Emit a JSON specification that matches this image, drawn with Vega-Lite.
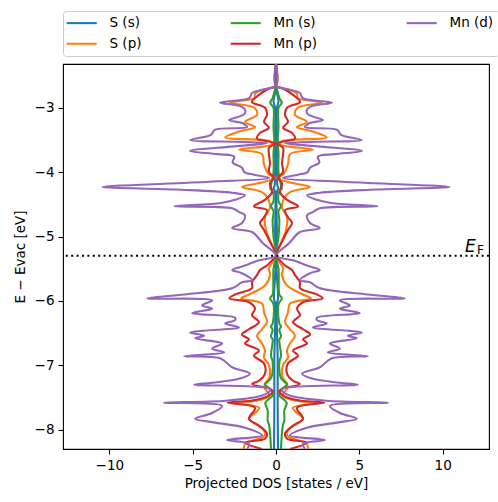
{
  "$schema": "https://vega.github.io/schema/vega-lite/v6.json",
  "width": 426,
  "height": 385,
  "autosize": "none",
  "padding": {"left": 63, "top": 64, "right": 9, "bottom": 53},
  "config": {
    "font": "DejaVu Sans",
    "view": {"stroke": "black", "strokeWidth": 1.1},
    "axis": {
      "domain": false, "grid": false, "tickColor": "black", "tickSize": 5, "tickWidth": 1.1,
      "labelFontSize": 13.5, "labelColor": "black", "labelPadding": 4,
      "titleFontSize": 13.5, "titleColor": "black", "titleFontWeight": "normal",
      "labelFlush": false, "labelOverlap": false
    }
  },
  "data": {"values": [
    {"s":"S (s)","e":-2.32,"u":0,"d":0},{"s":"S (s)","e":-2.66,"u":0,"d":0},{"s":"S (s)","e":-2.8,"u":0.08,"d":-0.08},{"s":"S (s)","e":-2.9,"u":0.15,"d":-0.15},{"s":"S (s)","e":-3.0,"u":0.06,"d":-0.06},{"s":"S (s)","e":-3.5,"u":0.06,"d":-0.06},{"s":"S (s)","e":-4.2,"u":0.08,"d":-0.08},{"s":"S (s)","e":-4.25,"u":0.14,"d":-0.14},{"s":"S (s)","e":-4.3,"u":0.06,"d":-0.06},{"s":"S (s)","e":-5.0,"u":0.05,"d":-0.05},{"s":"S (s)","e":-5.3,"u":0,"d":0},{"s":"S (s)","e":-5.6,"u":0.05,"d":-0.05},{"s":"S (s)","e":-5.96,"u":0.12,"d":-0.12},{"s":"S (s)","e":-6.05,"u":0.05,"d":-0.05},{"s":"S (s)","e":-6.9,"u":0.1,"d":-0.1},{"s":"S (s)","e":-7.3,"u":0.1,"d":-0.1},{"s":"S (s)","e":-7.6,"u":0.1,"d":-0.1},{"s":"S (s)","e":-8.3,"u":0.12,"d":-0.12},

    {"s":"S (p)","e":-2.32,"u":0,"d":0},{"s":"S (p)","e":-2.66,"u":0,"d":0},{"s":"S (p)","e":-2.72,"u":0.8,"d":-0.8},{"s":"S (p)","e":-2.78,"u":1.26,"d":-1.26},{"s":"S (p)","e":-2.85,"u":1.3,"d":-1.3},{"s":"S (p)","e":-2.92,"u":2.75,"d":-2.75},{"s":"S (p)","e":-3.0,"u":1.3,"d":-1.3},{"s":"S (p)","e":-3.11,"u":1.14,"d":-1.14},{"s":"S (p)","e":-3.22,"u":1.86,"d":-1.86},{"s":"S (p)","e":-3.3,"u":1.26,"d":-1.26},{"s":"S (p)","e":-3.37,"u":2.22,"d":-2.22},{"s":"S (p)","e":-3.46,"u":3.05,"d":-3.05},{"s":"S (p)","e":-3.52,"u":0.36,"d":-0.36},{"s":"S (p)","e":-3.57,"u":0.24,"d":-0.24},{"s":"S (p)","e":-3.65,"u":2.22,"d":-2.22},{"s":"S (p)","e":-3.72,"u":0.84,"d":-0.84},{"s":"S (p)","e":-3.88,"u":0.72,"d":-0.72},{"s":"S (p)","e":-4.04,"u":0.42,"d":-0.42},{"s":"S (p)","e":-4.09,"u":0.06,"d":-0.06},{"s":"S (p)","e":-4.17,"u":1.0,"d":-1.0},{"s":"S (p)","e":-4.23,"u":2.04,"d":-2.04},{"s":"S (p)","e":-4.31,"u":0.84,"d":-0.84},{"s":"S (p)","e":-4.4,"u":0.5,"d":-0.5},{"s":"S (p)","e":-4.55,"u":0.36,"d":-0.36},{"s":"S (p)","e":-4.7,"u":0.66,"d":-0.66},{"s":"S (p)","e":-4.9,"u":0.6,"d":-0.6},{"s":"S (p)","e":-5.1,"u":0.3,"d":-0.3},{"s":"S (p)","e":-5.3,"u":0,"d":0},{"s":"S (p)","e":-5.37,"u":0.12,"d":-0.12},{"s":"S (p)","e":-5.49,"u":0.42,"d":-0.42},{"s":"S (p)","e":-5.6,"u":0.36,"d":-0.36},{"s":"S (p)","e":-5.76,"u":0.66,"d":-0.66},{"s":"S (p)","e":-5.9,"u":1.62,"d":-1.62},{"s":"S (p)","e":-5.96,"u":2.1,"d":-2.1},{"s":"S (p)","e":-6.04,"u":0.84,"d":-0.84},{"s":"S (p)","e":-6.18,"u":0.72,"d":-0.72},{"s":"S (p)","e":-6.33,"u":0.54,"d":-0.54},{"s":"S (p)","e":-6.44,"u":0.84,"d":-0.84},{"s":"S (p)","e":-6.54,"u":1.14,"d":-1.14},{"s":"S (p)","e":-6.66,"u":0.84,"d":-0.84},{"s":"S (p)","e":-6.77,"u":0.66,"d":-0.66},{"s":"S (p)","e":-6.88,"u":0.72,"d":-0.72},{"s":"S (p)","e":-7.0,"u":0.42,"d":-0.42},{"s":"S (p)","e":-7.2,"u":0.42,"d":-0.42},{"s":"S (p)","e":-7.28,"u":0.66,"d":-0.66},{"s":"S (p)","e":-7.36,"u":0.66,"d":-0.66},{"s":"S (p)","e":-7.47,"u":0.4,"d":-0.4},{"s":"S (p)","e":-7.55,"u":1.2,"d":-1.2},{"s":"S (p)","e":-7.58,"u":2.46,"d":-2.46},{"s":"S (p)","e":-7.66,"u":1.0,"d":-1.0},{"s":"S (p)","e":-7.74,"u":1.26,"d":-1.26},{"s":"S (p)","e":-7.83,"u":1.62,"d":-1.62},{"s":"S (p)","e":-7.97,"u":0.84,"d":-0.84},{"s":"S (p)","e":-8.09,"u":0.66,"d":-0.66},{"s":"S (p)","e":-8.22,"u":1.86,"d":-1.86},{"s":"S (p)","e":-8.3,"u":1.92,"d":-1.92},

    {"s":"Mn (s)","e":-2.32,"u":0,"d":0},{"s":"Mn (s)","e":-2.66,"u":0,"d":0},{"s":"Mn (s)","e":-2.75,"u":0.1,"d":-0.1},{"s":"Mn (s)","e":-2.85,"u":0.2,"d":-0.2},{"s":"Mn (s)","e":-2.92,"u":0.35,"d":-0.35},{"s":"Mn (s)","e":-3.0,"u":0.15,"d":-0.15},{"s":"Mn (s)","e":-3.3,"u":0.15,"d":-0.15},{"s":"Mn (s)","e":-3.55,"u":0.1,"d":-0.1},{"s":"Mn (s)","e":-3.7,"u":0.15,"d":-0.15},{"s":"Mn (s)","e":-4.0,"u":0.15,"d":-0.15},{"s":"Mn (s)","e":-4.2,"u":0.3,"d":-0.3},{"s":"Mn (s)","e":-4.25,"u":0.35,"d":-0.35},{"s":"Mn (s)","e":-4.3,"u":0.2,"d":-0.2},{"s":"Mn (s)","e":-4.45,"u":0.15,"d":-0.15},{"s":"Mn (s)","e":-4.53,"u":0.3,"d":-0.3},{"s":"Mn (s)","e":-4.6,"u":0.15,"d":-0.15},{"s":"Mn (s)","e":-4.75,"u":0.2,"d":-0.2},{"s":"Mn (s)","e":-5.0,"u":0.15,"d":-0.15},{"s":"Mn (s)","e":-5.3,"u":0,"d":0},{"s":"Mn (s)","e":-5.5,"u":0.15,"d":-0.15},{"s":"Mn (s)","e":-5.9,"u":0.2,"d":-0.2},{"s":"Mn (s)","e":-5.96,"u":0.35,"d":-0.35},{"s":"Mn (s)","e":-6.05,"u":0.15,"d":-0.15},{"s":"Mn (s)","e":-6.35,"u":0.2,"d":-0.2},{"s":"Mn (s)","e":-6.4,"u":0.3,"d":-0.3},{"s":"Mn (s)","e":-6.45,"u":0.2,"d":-0.2},{"s":"Mn (s)","e":-6.55,"u":0.3,"d":-0.3},{"s":"Mn (s)","e":-6.6,"u":0.2,"d":-0.2},{"s":"Mn (s)","e":-6.85,"u":0.3,"d":-0.3},{"s":"Mn (s)","e":-6.95,"u":0.2,"d":-0.2},{"s":"Mn (s)","e":-7.2,"u":0.3,"d":-0.3},{"s":"Mn (s)","e":-7.3,"u":0.64,"d":-0.64},{"s":"Mn (s)","e":-7.38,"u":0.3,"d":-0.3},{"s":"Mn (s)","e":-7.47,"u":0.2,"d":-0.2},{"s":"Mn (s)","e":-7.58,"u":0.64,"d":-0.64},{"s":"Mn (s)","e":-7.7,"u":0.5,"d":-0.5},{"s":"Mn (s)","e":-7.85,"u":0.5,"d":-0.5},{"s":"Mn (s)","e":-7.95,"u":0.4,"d":-0.4},{"s":"Mn (s)","e":-8.3,"u":0.3,"d":-0.3},

    {"s":"Mn (p)","e":-2.32,"u":0,"d":0},{"s":"Mn (p)","e":-2.66,"u":0,"d":0},{"s":"Mn (p)","e":-2.7,"u":0.42,"d":-0.42},{"s":"Mn (p)","e":-2.8,"u":1.02,"d":-1.02},{"s":"Mn (p)","e":-2.91,"u":1.44,"d":-1.44},{"s":"Mn (p)","e":-3.0,"u":0.66,"d":-0.66},{"s":"Mn (p)","e":-3.11,"u":0.54,"d":-0.54},{"s":"Mn (p)","e":-3.22,"u":0.72,"d":-0.72},{"s":"Mn (p)","e":-3.31,"u":0.42,"d":-0.42},{"s":"Mn (p)","e":-3.39,"u":0.96,"d":-0.96},{"s":"Mn (p)","e":-3.48,"u":1.14,"d":-1.14},{"s":"Mn (p)","e":-3.53,"u":0.3,"d":-0.3},{"s":"Mn (p)","e":-3.56,"u":0.05,"d":-0.05},{"s":"Mn (p)","e":-3.62,"u":0.42,"d":-0.42},{"s":"Mn (p)","e":-3.73,"u":0.42,"d":-0.42},{"s":"Mn (p)","e":-3.86,"u":0.36,"d":-0.36},{"s":"Mn (p)","e":-4.0,"u":0.42,"d":-0.42},{"s":"Mn (p)","e":-4.09,"u":0.12,"d":-0.12},{"s":"Mn (p)","e":-4.17,"u":0.36,"d":-0.36},{"s":"Mn (p)","e":-4.31,"u":0.24,"d":-0.24},{"s":"Mn (p)","e":-4.43,"u":0.66,"d":-0.66},{"s":"Mn (p)","e":-4.53,"u":1.32,"d":-1.32},{"s":"Mn (p)","e":-4.59,"u":0.54,"d":-0.54},{"s":"Mn (p)","e":-4.7,"u":0.72,"d":-0.72},{"s":"Mn (p)","e":-4.79,"u":0.96,"d":-0.96},{"s":"Mn (p)","e":-4.9,"u":0.72,"d":-0.72},{"s":"Mn (p)","e":-5.05,"u":0.42,"d":-0.42},{"s":"Mn (p)","e":-5.3,"u":0,"d":0},{"s":"Mn (p)","e":-5.37,"u":0.24,"d":-0.24},{"s":"Mn (p)","e":-5.45,"u":0.54,"d":-0.54},{"s":"Mn (p)","e":-5.52,"u":0.96,"d":-0.96},{"s":"Mn (p)","e":-5.6,"u":1.14,"d":-1.14},{"s":"Mn (p)","e":-5.71,"u":1.44,"d":-1.44},{"s":"Mn (p)","e":-5.8,"u":1.44,"d":-1.44},{"s":"Mn (p)","e":-5.9,"u":2.46,"d":-2.46},{"s":"Mn (p)","e":-5.96,"u":2.8,"d":-2.8},{"s":"Mn (p)","e":-6.02,"u":1.62,"d":-1.62},{"s":"Mn (p)","e":-6.12,"u":1.26,"d":-1.26},{"s":"Mn (p)","e":-6.22,"u":1.44,"d":-1.44},{"s":"Mn (p)","e":-6.33,"u":1.02,"d":-1.02},{"s":"Mn (p)","e":-6.44,"u":1.62,"d":-1.62},{"s":"Mn (p)","e":-6.52,"u":2.04,"d":-2.04},{"s":"Mn (p)","e":-6.6,"u":1.62,"d":-1.62},{"s":"Mn (p)","e":-6.66,"u":1.86,"d":-1.86},{"s":"Mn (p)","e":-6.77,"u":1.02,"d":-1.02},{"s":"Mn (p)","e":-6.85,"u":1.32,"d":-1.32},{"s":"Mn (p)","e":-6.97,"u":0.72,"d":-0.72},{"s":"Mn (p)","e":-7.13,"u":0.66,"d":-0.66},{"s":"Mn (p)","e":-7.24,"u":1.02,"d":-1.02},{"s":"Mn (p)","e":-7.29,"u":1.44,"d":-1.44},{"s":"Mn (p)","e":-7.36,"u":0.42,"d":-0.42},{"s":"Mn (p)","e":-7.4,"u":0.2,"d":-0.2},{"s":"Mn (p)","e":-7.47,"u":0.42,"d":-0.42},{"s":"Mn (p)","e":-7.55,"u":1.5,"d":-1.5},{"s":"Mn (p)","e":-7.58,"u":2.9,"d":-2.9},{"s":"Mn (p)","e":-7.66,"u":1.26,"d":-1.26},{"s":"Mn (p)","e":-7.83,"u":1.62,"d":-1.62},{"s":"Mn (p)","e":-7.94,"u":1.02,"d":-1.02},{"s":"Mn (p)","e":-8.06,"u":0.54,"d":-0.54},{"s":"Mn (p)","e":-8.14,"u":0.66,"d":-0.66},{"s":"Mn (p)","e":-8.2,"u":1.86,"d":-1.86},{"s":"Mn (p)","e":-8.3,"u":0.84,"d":-0.84},

    {"s":"Mn (d)","e":-2.32,"u":0,"d":0},{"s":"Mn (d)","e":-2.66,"u":0,"d":0},{"s":"Mn (d)","e":-2.7,"u":0.5,"d":-0.5},{"s":"Mn (d)","e":-2.77,"u":1.44,"d":-1.44},{"s":"Mn (d)","e":-2.85,"u":1.6,"d":-1.6},{"s":"Mn (d)","e":-2.92,"u":3.35,"d":-3.35},{"s":"Mn (d)","e":-2.97,"u":2.2,"d":-2.2},{"s":"Mn (d)","e":-3.03,"u":1.86,"d":-1.86},{"s":"Mn (d)","e":-3.1,"u":1.9,"d":-1.9},{"s":"Mn (d)","e":-3.19,"u":2.81,"d":-2.81},{"s":"Mn (d)","e":-3.24,"u":2.0,"d":-2.0},{"s":"Mn (d)","e":-3.3,"u":1.74,"d":-1.74},{"s":"Mn (d)","e":-3.34,"u":3.65,"d":-3.65},{"s":"Mn (d)","e":-3.42,"u":3.9,"d":-3.9},{"s":"Mn (d)","e":-3.5,"u":5.15,"d":-5.15},{"s":"Mn (d)","e":-3.53,"u":2.0,"d":-2.0},{"s":"Mn (d)","e":-3.55,"u":0.54,"d":-0.54},{"s":"Mn (d)","e":-3.6,"u":2.5,"d":-2.5},{"s":"Mn (d)","e":-3.67,"u":5.15,"d":-5.15},{"s":"Mn (d)","e":-3.72,"u":3.5,"d":-3.5},{"s":"Mn (d)","e":-3.76,"u":2.51,"d":-2.51},{"s":"Mn (d)","e":-3.85,"u":2.6,"d":-2.6},{"s":"Mn (d)","e":-3.93,"u":2.04,"d":-2.04},{"s":"Mn (d)","e":-4.0,"u":1.9,"d":-1.9},{"s":"Mn (d)","e":-4.04,"u":1.32,"d":-1.32},{"s":"Mn (d)","e":-4.09,"u":0.42,"d":-0.42},{"s":"Mn (d)","e":-4.15,"u":4.0,"d":-4.0},{"s":"Mn (d)","e":-4.23,"u":10.4,"d":-10.4},{"s":"Mn (d)","e":-4.27,"u":6.0,"d":-6.0},{"s":"Mn (d)","e":-4.32,"u":2.63,"d":-2.63},{"s":"Mn (d)","e":-4.36,"u":1.86,"d":-1.86},{"s":"Mn (d)","e":-4.43,"u":2.46,"d":-2.46},{"s":"Mn (d)","e":-4.48,"u":3.3,"d":-3.3},{"s":"Mn (d)","e":-4.53,"u":6.1,"d":-6.1},{"s":"Mn (d)","e":-4.56,"u":2.63,"d":-2.63},{"s":"Mn (d)","e":-4.62,"u":2.2,"d":-2.2},{"s":"Mn (d)","e":-4.67,"u":1.86,"d":-1.86},{"s":"Mn (d)","e":-4.79,"u":2.04,"d":-2.04},{"s":"Mn (d)","e":-4.87,"u":2.63,"d":-2.63},{"s":"Mn (d)","e":-4.93,"u":1.44,"d":-1.44},{"s":"Mn (d)","e":-5.1,"u":0.8,"d":-0.8},{"s":"Mn (d)","e":-5.3,"u":0,"d":0},{"s":"Mn (d)","e":-5.37,"u":1.02,"d":-1.02},{"s":"Mn (d)","e":-5.45,"u":1.86,"d":-1.86},{"s":"Mn (d)","e":-5.52,"u":2.63,"d":-2.63},{"s":"Mn (d)","e":-5.57,"u":2.04,"d":-2.04},{"s":"Mn (d)","e":-5.68,"u":1.44,"d":-1.44},{"s":"Mn (d)","e":-5.71,"u":2.04,"d":-2.04},{"s":"Mn (d)","e":-5.8,"u":2.6,"d":-2.6},{"s":"Mn (d)","e":-5.9,"u":5.5,"d":-5.5},{"s":"Mn (d)","e":-5.96,"u":7.72,"d":-7.72},{"s":"Mn (d)","e":-5.99,"u":3.83,"d":-3.83},{"s":"Mn (d)","e":-6.07,"u":4.43,"d":-4.43},{"s":"Mn (d)","e":-6.12,"u":3.83,"d":-3.83},{"s":"Mn (d)","e":-6.19,"u":5.03,"d":-5.03},{"s":"Mn (d)","e":-6.26,"u":2.46,"d":-2.46},{"s":"Mn (d)","e":-6.3,"u":2.46,"d":-2.46},{"s":"Mn (d)","e":-6.35,"u":3.05,"d":-3.05},{"s":"Mn (d)","e":-6.41,"u":2.22,"d":-2.22},{"s":"Mn (d)","e":-6.49,"u":5.15,"d":-5.15},{"s":"Mn (d)","e":-6.54,"u":4.31,"d":-4.31},{"s":"Mn (d)","e":-6.58,"u":4.85,"d":-4.85},{"s":"Mn (d)","e":-6.66,"u":3.23,"d":-3.23},{"s":"Mn (d)","e":-6.74,"u":3.83,"d":-3.83},{"s":"Mn (d)","e":-6.8,"u":3.11,"d":-3.11},{"s":"Mn (d)","e":-6.86,"u":5.51,"d":-5.51},{"s":"Mn (d)","e":-6.89,"u":3.35,"d":-3.35},{"s":"Mn (d)","e":-7.03,"u":2.63,"d":-2.63},{"s":"Mn (d)","e":-7.13,"u":1.56,"d":-1.56},{"s":"Mn (d)","e":-7.21,"u":2.22,"d":-2.22},{"s":"Mn (d)","e":-7.27,"u":3.83,"d":-3.83},{"s":"Mn (d)","e":-7.3,"u":4.91,"d":-4.91},{"s":"Mn (d)","e":-7.36,"u":0.42,"d":-0.42},{"s":"Mn (d)","e":-7.39,"u":0.36,"d":-0.36},{"s":"Mn (d)","e":-7.47,"u":0.84,"d":-0.84},{"s":"Mn (d)","e":-7.55,"u":3.0,"d":-3.0},{"s":"Mn (d)","e":-7.58,"u":6.71,"d":-6.71},{"s":"Mn (d)","e":-7.63,"u":3.23,"d":-3.23},{"s":"Mn (d)","e":-7.74,"u":3.83,"d":-3.83},{"s":"Mn (d)","e":-7.83,"u":4.85,"d":-4.85},{"s":"Mn (d)","e":-7.89,"u":3.65,"d":-3.65},{"s":"Mn (d)","e":-7.97,"u":1.86,"d":-1.86},{"s":"Mn (d)","e":-8.09,"u":0.84,"d":-0.84},{"s":"Mn (d)","e":-8.16,"u":2.93,"d":-2.93},{"s":"Mn (d)","e":-8.22,"u":1.62,"d":-1.62},{"s":"Mn (d)","e":-8.3,"u":1.74,"d":-1.74}
  ]},
  "layer": [
    {
      "mark": {"type": "line", "strokeWidth": 2.1, "clip": true, "interpolate": "catmull-rom"},
      "encoding": {
        "x": {"field": "u", "type": "quantitative", "title": "Projected DOS [states / eV]",
              "scale": {"domain": [-12.78, 12.78], "nice": false, "zero": false},
              "axis": {"values": [-10, -5, 0, 5, 10], "titlePadding": 5, "format": "d"}},
        "y": {"field": "e", "type": "quantitative", "title": "E − Evac [eV]",
              "scale": {"domain": [-8.3, -2.32], "nice": false, "zero": false},
              "axis": {"values": [-8, -7, -6, -5, -4, -3], "titlePadding": 7, "format": "d"}},
        "color": {"field": "s", "type": "nominal",
          "scale": {"domain": ["S (s)", "Mn (s)", "Mn (d)", "S (p)", "Mn (p)"],
                    "range": ["#1f77b4", "#2ca02c", "#9467bd", "#ff7f0e", "#d62728"]},
          "legend": {"title": null, "orient": "none", "legendX": 0, "legendY": -53,
                     "direction": "horizontal", "columns": 3, "symbolType": "M-1.6,0H4.4",
                     "symbolSize": 100, "symbolStrokeWidth": 2.1, "labelFontSize": 13.5,
                     "labelColor": "black", "labelOffset": 28, "columnPadding": 84, "rowPadding": 6,
                     "padding": 5, "strokeColor": "#cccccc", "fillColor": "white", "cornerRadius": 3}},
        "order": {"field": "e", "type": "quantitative"}
      }
    },
    {
      "mark": {"type": "line", "strokeWidth": 2.1, "clip": true, "interpolate": "catmull-rom"},
      "encoding": {
        "x": {"field": "d", "type": "quantitative", "title": "Projected DOS [states / eV]"},
        "y": {"field": "e", "type": "quantitative", "title": "E − Evac [eV]"},
        "color": {"field": "s", "type": "nominal"},
        "order": {"field": "e", "type": "quantitative"}
      }
    },
    {
      "data": {"values": [{"ef": -5.3}]},
      "mark": {"type": "rule", "color": "black", "strokeWidth": 2, "strokeDash": [2, 3.4]},
      "encoding": {"y": {"field": "ef", "type": "quantitative", "title": "E − Evac [eV]"}}
    },
    {
      "data": {"values": [{"t": "E", "px": 11.34, "pe": -5.234}]},
      "mark": {"type": "text", "align": "left", "baseline": "alphabetic", "fontStyle": "italic", "fontSize": 17, "color": "black"},
      "encoding": {
        "x": {"field": "px", "type": "quantitative", "title": "Projected DOS [states / eV]"},
        "y": {"field": "pe", "type": "quantitative", "title": "E − Evac [eV]"},
        "text": {"field": "t"}
      }
    },
    {
      "data": {"values": [{"t": "F", "px": 12.06, "pe": -5.272}]},
      "mark": {"type": "text", "align": "left", "baseline": "alphabetic", "fontSize": 12, "color": "black"},
      "encoding": {
        "x": {"field": "px", "type": "quantitative", "title": "Projected DOS [states / eV]"},
        "y": {"field": "pe", "type": "quantitative", "title": "E − Evac [eV]"},
        "text": {"field": "t"}
      }
    }
  ]
}
